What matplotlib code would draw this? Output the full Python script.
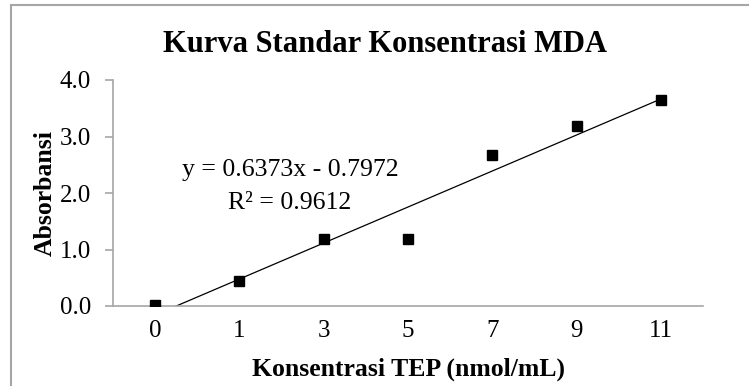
import numpy as np
import matplotlib
matplotlib.use("Agg")
import matplotlib.pyplot as plt
from matplotlib.lines import Line2D

plt.rcParams['font.family'] = ['Liberation Serif', 'DejaVu Serif']

# data
konsentrasi = ['0', '1', '3', '5', '7', '9', '11']
absorbansi = [0.02, 0.44, 1.19, 1.19, 2.67, 3.18, 3.65]
slope = 0.6373
intercept = -0.7972
r2 = 0.9612

W, H = 749, 386
fig = plt.figure(figsize=(W / 100, H / 100), dpi=100)

# chart area border (only left and top visible)
grey = '#a6a6a6'
fig.add_artist(Line2D([11 / W, 11 / W], [0, 1 - 5 / H], color=grey, lw=1.5))
fig.add_artist(Line2D([11 / W, 1], [1 - 5 / H, 1 - 5 / H], color=grey, lw=1.5))

ax = fig.add_axes([113 / W, 1 - 306 / H, (703 - 113) / W, (306 - 80) / H])

pos = np.arange(1, len(konsentrasi) + 1)
ax.plot(pos, absorbansi, 's', color='black', markersize=6.5, zorder=3)

# linear trendline (Excel style, clipped at y = 0)
xt = np.array([1, len(konsentrasi)])
ax.plot(xt, slope * xt + intercept, color='black', lw=0.9, zorder=2)

ax.set_xlim(0.5, len(konsentrasi) + 0.5)
ax.set_ylim(0, 4)
ax.set_yticks([0, 1, 2, 3, 4])
ax.set_yticklabels(['0.0', '1.0', '2.0', '3.0', '4.0'])
ax.set_xticks(pos)
ax.set_xticklabels(konsentrasi)

for s in ['top', 'right']:
    ax.spines[s].set_visible(False)
for s in ['left', 'bottom']:
    ax.spines[s].set_color(grey)
    ax.spines[s].set_linewidth(1.2)
ax.spines['left'].set_zorder(1)

ax.tick_params(axis='y', direction='out', length=6, width=1.2, color=grey,
               labelsize=18, pad=10)
ax.tick_params(axis='x', length=0, labelsize=18, pad=10)

ax.set_ylabel('Absorbansi', fontsize=18.5, fontweight='bold', labelpad=2)
ax.set_xlabel('Konsentrasi TEP (nmol/mL)', fontsize=18.5, fontweight='bold',
              labelpad=11)

fig.text(385 / W, 1 - 45 / H, 'Kurva Standar Konsentrasi MDA', ha='center',
         va='center', fontsize=22, fontweight='bold')

ax.text(2.6, 2.4, 'y = %.4fx - %.4f' % (slope, -intercept), ha='center',
        va='center', fontsize=18.5)
ax.text(2.6, 1.83, 'R² = %.4f' % r2, ha='center', va='center', fontsize=18.5)

fig.savefig('out.png', dpi=100)
